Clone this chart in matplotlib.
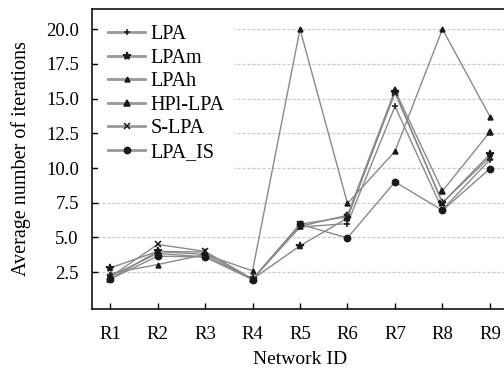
import numpy as np
import matplotlib
matplotlib.use('Agg')
import matplotlib.pyplot as plt

plt.rcParams['font.family'] = ['Liberation Serif', 'DejaVu Serif']

#network ids
networks = ['R1', 'R2', 'R3', 'R4', 'R5', 'R6', 'R7', 'R8', 'R9']

#average number of iterations for each algorithm
lpa = [2.2, 3.85, 3.6, 2.0, 5.75, 6.0, 14.45, 7.0, 10.6]
lpam = [2.8, 4.0, 3.77, 2.0, 4.4, 6.4, 15.5, 7.5, 11.0]
lpah = [2.4, 3.05, 3.77, 2.6, 20.0, 7.45, 11.2, 20.0, 13.7]
hpl_lpa = [2.0, 4.0, 3.95, 2.0, 5.8, 6.6, 15.6, 8.35, 12.6]
s_lpa = [2.15, 4.5, 4.0, 2.0, 5.95, 6.5, 15.4, 7.5, 10.8]
lpa_is = [2.0, 3.65, 3.6, 1.97, 5.95, 4.97, 9.0, 6.95, 9.95]

labels = ['LPA', 'LPAm', 'LPAh', 'HPl-LPA', 'S-LPA', 'LPA_IS']
series = [lpa, lpam, lpah, hpl_lpa, s_lpa, lpa_is]
markers = ['+', '*', '^', '^', 'x', 'o']
msizes = [5, 6, 3.5, 5, 5, 4.5]

yticks = [2.5, 5.0, 7.5, 10.0, 12.5, 15.0, 17.5, 20.0]

fig = plt.figure(figsize=(5.04, 3.69), dpi=100)
ax = fig.add_axes([92/504, 1-309/369, 416/504, 300/369])

x = np.arange(len(networks))
for vals, lab, mk, ms in zip(series, labels, markers, msizes):
    ax.plot(x, vals, color='#8a8a8a', lw=1.0, marker=mk, markersize=ms,
            markerfacecolor='#1a1a1a', markeredgecolor='#1a1a1a',
            markeredgewidth=1.1, label=lab)

ax.set_xlim(-0.38, 8.38)
ax.set_ylim(-0.15, 21.45)
ax.set_xticks(x)
ax.set_xticklabels(networks)
ax.set_yticks(yticks)
ax.set_yticklabels(['%.1f' % v for v in yticks])
ax.tick_params(direction='in', labelsize=13.5, length=4, width=1)
ax.tick_params(axis='y', pad=9.5)
ax.tick_params(axis='x', pad=12)

ax.yaxis.grid(True, linestyle=(0, (2.5, 1.5)), color='#cccccc', lw=0.9)
ax.set_axisbelow(True)

for s in ax.spines.values():
    s.set_linewidth(1.1)

ax.set_xlabel('Network ID', fontsize=14, labelpad=6)
ax.set_ylabel('Average number of iterations', fontsize=14.5, labelpad=11)

leg = ax.legend(loc='upper left', fontsize=14.5, handlelength=1.85,
                labelspacing=0.22, borderpad=0.5, handletextpad=0.25,
                frameon=True, fancybox=False, framealpha=1.0,
                borderaxespad=0.3)
leg.get_frame().set_edgecolor('none')
leg.get_frame().set_facecolor('white')
for line in leg.get_lines():
    line.set_linewidth(2.0)
    line.set_color('#999999')

fig.savefig('out.png', dpi=100)
